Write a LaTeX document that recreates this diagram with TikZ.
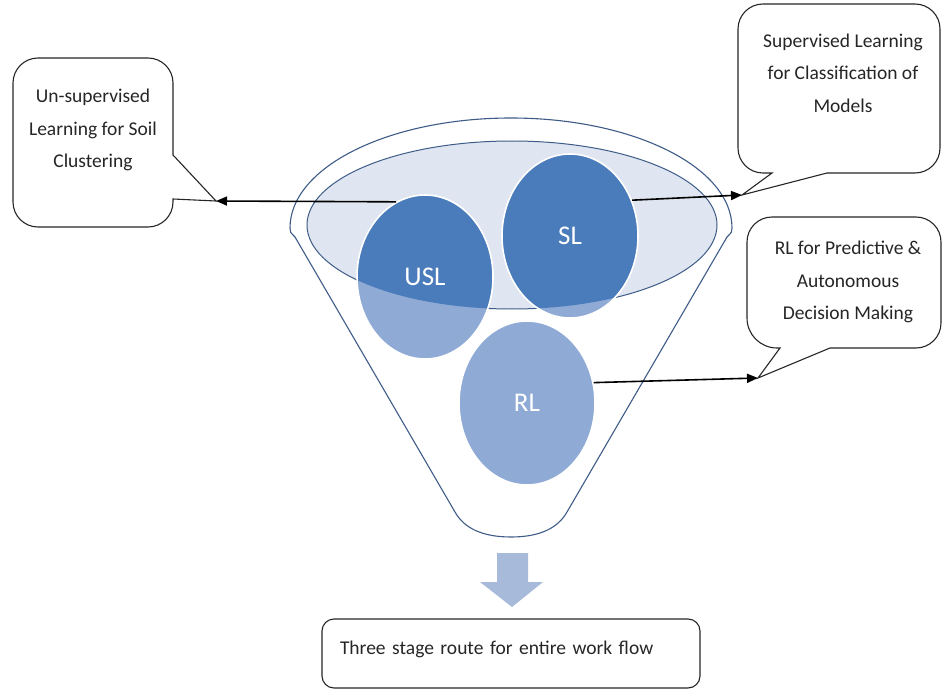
\documentclass[tikz,border=0pt]{standalone}
\usepackage{fontspec}
\setmainfont{Carlito}
\usetikzlibrary{arrows.meta,shapes.geometric}
\definecolor{funnelline}{RGB}{62,92,135}
\definecolor{innerfill}{RGB}{223,230,241}
\definecolor{darkblue}{RGB}{74,123,187}
\definecolor{lightblue}{RGB}{143,171,213}
\definecolor{blockarrow}{RGB}{167,186,218}
\begin{document}
\begin{tikzpicture}[x=1pt,y=-1pt,
  circ/.style={ellipse, minimum width=136pt, minimum height=164pt, inner sep=0pt,
    draw=white, line width=1.6pt, text=white, font=\fontsize{27}{30}\selectfont},
  callout/.style={draw=black!85, line width=1.1pt, fill=white},
  calltext/.style={align=center, font=\fontsize{19.5}{32.5}\selectfont, text=black!85, inner sep=0pt},
  conn/.style={line width=1.6pt, -{Triangle[length=11pt,width=9pt]}},
  flowbox/.style={draw=black!85, line width=1.1pt, rounded corners=12pt,
    minimum width=378pt, minimum height=69pt, text width=342pt, align=left,
    inner xsep=18pt, text height=14pt, text depth=12pt, text=black!85,
    font=\fontsize{19.5}{24}\selectfont}
]
\useasboundingbox (0,0) rectangle (943,690);

% funnel outline
\draw[funnelline, line width=1.1pt, fill=white]
  (290,228) .. controls (290,167) and (389,118) .. (511,118)
  .. controls (633,118) and (732,167) .. (732,228)
  .. controls (732,232) .. (727,237)
  -- (567,512) .. controls (558,528) and (540,537) .. (511,537)
  .. controls (482,537) and (464,528) .. (455,512)
  -- (295,237) .. controls (290,232) .. (290,228) -- cycle;

% inner ellipse
\draw[funnelline, line width=1pt, fill=innerfill] (512,225) ellipse [x radius=205pt, y radius=84pt];

% circle fills
\fill[lightblue] (425,277) ellipse [x radius=68pt, y radius=82pt];
\fill[lightblue] (570,236) ellipse [x radius=68pt, y radius=82pt];
\fill[lightblue] (527,403) ellipse [x radius=68pt, y radius=82pt];
\begin{scope}
  \clip (512,225) ellipse [x radius=205pt, y radius=84pt];
  \fill[darkblue] (425,277) ellipse [x radius=68pt, y radius=82pt];
  \fill[darkblue] (570,236) ellipse [x radius=68pt, y radius=82pt];
\end{scope}

\node[circ] (USL) at (425,277) {USL};
\node[circ] (SL) at (570,236) {SL};
\node[circ] (RL) at (527,403) {RL};

% callouts
\coordinate (tipL) at (216,201);
\draw[callout] (38,58) -- (148,58) .. controls (161.8,58) and (173,69.2) .. (173,83)
  -- (173,155) -- (tipL) -- (173,199) -- (173,202)
  .. controls (173,215.8) and (161.8,227) .. (148,227) -- (38,227)
  .. controls (24.2,227) and (13,215.8) .. (13,202) -- (13,83)
  .. controls (13,69.2) and (24.2,58) .. (38,58) -- cycle;
\node[calltext] (cUSL) at (93,130) {Un-supervised\\Learning for Soil\\Clustering};

\coordinate (tipS) at (742,195);
\draw[callout] (763,4) -- (915,4) .. controls (928.8,4) and (940,15.2) .. (940,29)
  -- (940,148) .. controls (940,161.8) and (928.8,173) .. (915,173)
  -- (827,173) -- (tipS) -- (772,173) -- (763,173)
  .. controls (749.2,173) and (738,161.8) .. (738,148) -- (738,29)
  .. controls (738,15.2) and (749.2,4) .. (763,4) -- cycle;
\node[calltext] (cSL) at (843,73) {Supervised Learning\\for Classification of\\Models};

\coordinate (tipR) at (758,378);
\draw[callout] (772,217) -- (916,217) .. controls (929.8,217) and (941,228.2) .. (941,242)
  -- (941,323) .. controls (941,336.8) and (929.8,348) .. (916,348)
  -- (830,348) -- (tipR) -- (780,348) -- (777,348)
  .. controls (760.4,348) and (747,334.6) .. (747,318) -- (747,242)
  .. controls (747,228.2) and (758.2,217) .. (772,217) -- cycle;
\node[calltext] (cRL) at (848,282) {RL for Predictive \&\\Autonomous\\Decision Making};

% connectors
\draw[conn] (USL.111) -- (tipL);
\draw[conn] (SL.30) -- (tipS);
\draw[conn] (RL.17) -- (tipR);

% block arrow
\fill[blockarrow] (497,553) -- (528,553) -- (528,582) -- (543,582) -- (512,607)
  -- (480,582) -- (497,582) -- cycle;

% bottom box
\node[flowbox] (flow) at (511,653.5) {Three stage route for entire work flow};
\end{tikzpicture}
\end{document}
